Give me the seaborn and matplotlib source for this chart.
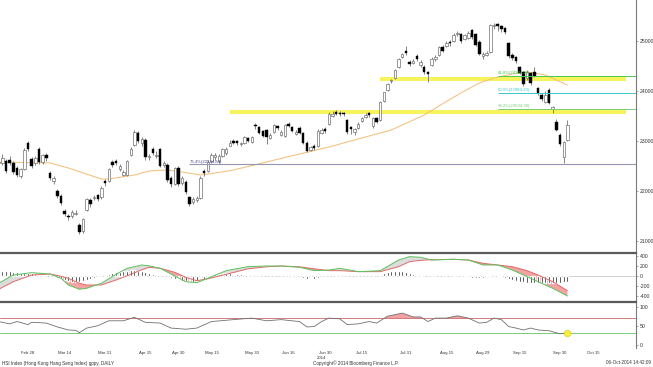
import numpy as np
import pandas as pd
import matplotlib
matplotlib.use("Agg")
import matplotlib.pyplot as plt
import matplotlib.transforms as mtransforms
import seaborn as sns

# HKEX trading calendar (holidays in the charted window)
hk_holidays = ["2014-04-18", "2014-04-21", "2014-05-01", "2014-05-06", "2014-06-02",
               "2014-07-01", "2014-09-09", "2014-10-01", "2014-10-02"]

# daily candles, Feb 17 .. Oct 6 2014
opens = [22420, 22560, 22560, 22600, 22620, 22560, 22460, 22300, 22440, 22950,
         22640, 22560, 22840, 22580, 22720, 22360, 22200, 22000, 21900, 21600,
         21500, 21500, 21550, 21320, 21200, 21620, 21820, 21870, 21920, 21880,
         22200, 22200, 22580, 22600, 22440, 22330, 22320, 22720, 22920, 23160,
         22960, 23020, 22680, 22840, 22700, 22840, 22520, 22520, 22260, 22140,
         22460, 22160, 22180, 21880, 21780, 21820, 21860, 22400, 22400, 22600,
         22680, 22600, 22700, 22760, 22900, 23000, 23000, 22940, 22960, 23060,
         22990, 23330, 23280, 23200, 23220, 23060, 23180, 23300, 23120, 23100,
         23340, 23280, 23140, 23260, 23160, 22960, 22820, 22900, 22900, 23160,
         23240, 23340, 23500, 23580, 23560, 23560, 23420, 23270, 23180, 23260,
         23400, 23480, 23560, 23300, 23460, 23420, 23800, 24020, 24200, 24260,
         24480, 24680, 24800, 24580, 24560, 24700, 24520, 24480, 24380, 24520,
         24640, 24720, 24880, 24900, 24980, 25000, 25140, 25140, 25040, 25060,
         25220, 25140, 24980, 24700, 24720, 24780, 25300, 25340, 25300, 25260,
         24960, 24720, 24680, 24480, 24380, 24260, 24360, 24380, 24060, 23920,
         23780, 24020, 23640, 23380, 23120, 22680, 23020]
highs = [22600, 22640, 22740, 22640, 22700, 22600, 22500, 22470, 22860, 23000,
         22680, 22700, 22880, 22740, 22760, 22400, 22300, 22040, 21940, 21640,
         21540, 21620, 21620, 21360, 21470, 21870, 21860, 21920, 21950, 22100,
         22240, 22470, 22620, 22640, 22540, 22420, 22620, 22880, 23220, 23200,
         23080, 23060, 22740, 22880, 22800, 22860, 22600, 22560, 22300, 22480,
         22500, 22300, 22220, 21900, 21880, 21900, 22300, 22440, 22620, 22760,
         22760, 22740, 22860, 22880, 23020, 23040, 23020, 22980, 23100, 23080,
         23100, 23360, 23300, 23220, 23240, 23160, 23340, 23320, 23220, 23340,
         23380, 23300, 23220, 23300, 23180, 23000, 22900, 22940, 23240, 23260,
         23280, 23580, 23600, 23620, 23600, 23580, 23440, 23300, 23260, 23380,
         23480, 23560, 23580, 23480, 23480, 23800, 23990, 24160, 24240, 24440,
         24660, 24760, 24900, 24620, 24640, 24740, 24620, 24520, 24400, 24680,
         24720, 24900, 24920, 25000, 25020, 25160, 25200, 25160, 25140, 25200,
         25240, 25160, 25020, 24780, 24800, 25340, 25362, 25360, 25320, 25280,
         24980, 24760, 24700, 24500, 24400, 24420, 24380, 24480, 24080, 23960,
         24000, 24060, 23700, 23440, 23160, 23000, 23420]
lows = [22400, 22480, 22520, 22360, 22520, 22340, 22280, 22260, 22420, 22800,
        22460, 22520, 22540, 22540, 22600, 22220, 22150, 21860, 21720, 21500,
        21420, 21460, 21520, 21140, 21160, 21600, 21680, 21820, 21800, 21850,
        22100, 22180, 22480, 22520, 22400, 22300, 22300, 22700, 22900, 22960,
        22900, 22620, 22620, 22720, 22660, 22480, 22480, 22180, 22080, 22120,
        22100, 22120, 21940, 21700, 21740, 21780, 21840, 22300, 22380, 22560,
        22620, 22560, 22680, 22720, 22900, 22940, 22920, 22900, 22940, 22980,
        22970, 23240, 23140, 23080, 22940, 23040, 23160, 23220, 23100, 23080,
        23280, 23180, 23120, 23140, 22940, 22780, 22800, 22820, 22880, 23140,
        23160, 23320, 23480, 23520, 23500, 23500, 23140, 23140, 23120, 23240,
        23380, 23460, 23480, 23260, 23360, 23400, 23780, 24000, 24160, 24240,
        24460, 24660, 24720, 24500, 24540, 24600, 24480, 24340, 24180, 24500,
        24600, 24700, 24780, 24880, 24900, 24980, 25100, 24960, 25020, 25040,
        25040, 24900, 24720, 24640, 24700, 24760, 25240, 25200, 25180, 25140,
        24660, 24620, 24560, 24340, 24100, 24220, 24120, 24280, 23920, 23800,
        23760, 23740, 23560, 23200, 22900, 22560, 23000]
closes = [22535, 22587, 22664, 22394, 22568, 22388, 22317, 22437, 22828, 22837,
          22500, 22657, 22579, 22712, 22660, 22265, 22269, 21901, 21756, 21539,
          21473, 21583, 21568, 21182, 21436, 21846, 21732, 21887, 21834, 22065,
          22151, 22448, 22523, 22565, 22510, 22377, 22596, 22843, 23186, 23003,
          23038, 22671, 22696, 22760, 22730, 22509, 22562, 22223, 22132, 22453,
          22134, 22260, 21976, 21746, 21837, 21863, 22262, 22352, 22583, 22730,
          22713, 22704, 22834, 22836, 22953, 22965, 22963, 22944, 23080, 23010,
          23082, 23291, 23152, 23109, 23071, 23117, 23315, 23257, 23175, 23319,
          23301, 23203, 23181, 23168, 22965, 22805, 22880, 22866, 23197, 23221,
          23191, 23549, 23531, 23546, 23540, 23541, 23176, 23238, 23233, 23346,
          23459, 23523, 23520, 23454, 23387, 23782, 23971, 24141, 24216, 24428,
          24641, 24733, 24757, 24532, 24601, 24648, 24584, 24387, 24331, 24646,
          24689, 24890, 24801, 24955, 24955, 25122, 25159, 24994, 25112, 25166,
          25074, 24918, 24741, 24742, 24752, 25318, 25317, 25298, 25240, 25190,
          24705, 24662, 24595, 24356, 24136, 24376, 24168, 24306, 23955, 23837,
          23921, 23768, 23678, 23229, 22932, 22980, 23315]

# moving average (orange), sampled off the chart
ma_dates = ["2014-02-18", "2014-03-10", "2014-03-17", "2014-03-28", "2014-04-01",
            "2014-04-10", "2014-04-16", "2014-04-25", "2014-05-02", "2014-05-12",
            "2014-05-16", "2014-05-23", "2014-06-06", "2014-06-19", "2014-07-02",
            "2014-07-14", "2014-07-25", "2014-08-07", "2014-08-15", "2014-08-21",
            "2014-08-28", "2014-09-03", "2014-09-11", "2014-09-17", "2014-09-24",
            "2014-09-29", "2014-10-06"]
ma_values = [22580, 22560, 22460, 22240, 22240, 22320, 22400, 22420, 22380, 22320,
             22360, 22420, 22580, 22740, 22880, 23040, 23220, 23520, 23790, 23960,
             24160, 24260, 24340, 24380, 24320, 24220, 24120]

# MACD panel
macd_dates = ["2014-02-18", "2014-02-24", "2014-03-03", "2014-03-10", "2014-03-13",
              "2014-03-17", "2014-03-20", "2014-03-24", "2014-03-28", "2014-04-03",
              "2014-04-08", "2014-04-14", "2014-04-16", "2014-04-23", "2014-04-29",
              "2014-05-05", "2014-05-09", "2014-05-14", "2014-05-21", "2014-05-29",
              "2014-06-06", "2014-06-12", "2014-06-19", "2014-06-25", "2014-07-02",
              "2014-07-07", "2014-07-14", "2014-07-22", "2014-07-29", "2014-08-01",
              "2014-08-06", "2014-08-11", "2014-08-19", "2014-08-25", "2014-08-29",
              "2014-09-04", "2014-09-11", "2014-09-17", "2014-09-22", "2014-09-26",
              "2014-10-06"]
macd_line = [-140, 26, 73, 46, -40, -174, -260, -240, -140, 40, 160, 226, 210, 160,
             6, -108, -128, -40, 113, 193, 206, 206, 180, 113, 126, 160, 93, 113,
             326, 393, 380, 326, 340, 326, 226, 226, 126, -6, -108, -240, -394]
signal_line = [-260, -108, 26, 46, 0, -40, -140, -174, -174, -74, 10, 130, 180, 160,
               80, -20, -88, -50, 40, 150, 190, 206, 190, 150, 113, 113, 93, 93,
               193, 293, 320, 330, 340, 326, 260, 226, 193, 113, 26, -108, -288]
hist_values = [110, 110, 110, 105, 100, 95, 80, 75, 70, 65, 60,
               40, 30, 20, 10, 5, -20,
               -40, -60, -80, -100, -110, -110, -105, -100,
               -80, -60, -40, -20, 5, 20,
               40, 60, 80, 90, 100, 110, 120, 120, 110,
               100, 80, 60, 50, 40, 30, 10, -20, -40,
               -60, -80, -90, -100, -110, -110, -100, -80, -50, -20,
               20, 40, 50, 60, 60, 60, 50,
               40, 40, 30, 30, 20, 20, 20, 10, 10, 5,
               5, 10, 5, -5, -10, -10, -20, -20,
               -40, -60, -60, -50, -40, -30, -20,
               10, 30, 30, 30, 20, 10,
               5, -10, 5, 5, -5, 5, -5, 5,
               30, 60, 80, 100, 110, 110, 100, 80, 60,
               40, 30, 20, 10, 5,
               -5, 5, 5, 10, 10, 5, -5, 5, -5, -10,
               -20, -30, -40, -40, -40,
               -20, -5, 5, -10, -20,
               -40, -60, -80, -100, -110, -120, -130,
               -140, -140, -140, -140, -140, -140, -130, -130, -130, -120, -110]

# RSI panel
rsi_dates = ["2014-02-18", "2014-02-21", "2014-02-25", "2014-02-28", "2014-03-03",
             "2014-03-07", "2014-03-12", "2014-03-17", "2014-03-19", "2014-03-20",
             "2014-03-24", "2014-03-27", "2014-04-01", "2014-04-07", "2014-04-10",
             "2014-04-15", "2014-04-23", "2014-04-28", "2014-05-05", "2014-05-09",
             "2014-05-15", "2014-05-23", "2014-05-30", "2014-06-06", "2014-06-12",
             "2014-06-19", "2014-06-23", "2014-06-25", "2014-06-27", "2014-07-02",
             "2014-07-07", "2014-07-09", "2014-07-14", "2014-07-17", "2014-07-21",
             "2014-07-24", "2014-07-30", "2014-08-04", "2014-08-06", "2014-08-08",
             "2014-08-12", "2014-08-15", "2014-08-20", "2014-08-25", "2014-08-28",
             "2014-09-01", "2014-09-03", "2014-09-05", "2014-09-10", "2014-09-12",
             "2014-09-16", "2014-09-18", "2014-09-22", "2014-09-25", "2014-09-30",
             "2014-10-06"]
rsi_values = [61, 55, 61, 53, 59, 57, 47, 39, 38, 32, 44, 50, 63, 63, 72, 59, 57, 44,
              41, 44, 61, 66, 70, 63, 66, 61, 47, 48, 61, 70, 68, 53, 55, 61, 57, 75,
              83, 73, 73, 61, 70, 70, 76, 70, 57, 59, 70, 66, 48, 44, 39, 44, 39, 37,
              29, 32]

tick_dates = ["2014-02-28", "2014-03-14", "2014-03-31", "2014-04-15", "2014-04-30",
              "2014-05-15", "2014-05-30", "2014-06-16", "2014-06-30", "2014-07-15",
              "2014-07-31", "2014-08-15", "2014-08-29", "2014-09-15", "2014-09-30",
              "2014-10-15"]
tick_labels = ["Feb 28", "Mar 14", "Mar 31", "Apr 15", "Apr 30", "May 15", "May 30",
               "Jun 16", "Jun 30", "Jul 15", "Jul 31", "Aug 15", "Aug 29", "Sep 15",
               "Sep 30", "Oct 15"]

fib_levels = [24300, 23955, 23640]
fib_labels = ["61.8%(24334.28)", "50.0%(23984.29)", "38.2%(23634.30)"]
fib_colors = ["#4cc84c", "#3cc8c8", "#74cf74"]
fib_start = "2014-09-04"
low_level = 22535
low_label = "76.4%(22534.84)"
low_start = "2014-05-07"
bands = [("2014-05-22", 23550, 23630), ("2014-07-22", 24205, 24285)]
band_end = "2014-10-28"

sns.set_style("white")
plt.rcParams["font.family"] = ["Liberation Sans", "DejaVu Sans"]

days = pd.bdate_range("2014-02-17", "2014-11-14", freq="C", holidays=hk_holidays)


def pos(d):
    return days.get_loc(pd.Timestamp(d))


fig = plt.figure(figsize=(6.53, 3.67), dpi=100)
W = 636 / 653
ax = fig.add_axes([0, 1 - 252 / 367, W, 252 / 367])
ax2 = fig.add_axes([0, 1 - 301 / 367, W, 48 / 367])
ax3 = fig.add_axes([0, 1 - 348 / 367, W, 46 / 367])
xmin, xmax = 1.37, 174.7

# --- price panel
x = np.arange(len(closes))
o, h, l, c = (np.array(v, dtype=float) for v in (opens, highs, lows, closes))
up = c >= o
body = np.maximum(np.abs(c - o), 14)
bottom = np.minimum(o, c)

for start, lo, hi in bands:
    ax.fill_between([pos(start), pos(band_end)], lo, hi, color="#f7f35a", lw=0, zorder=1)

sns.lineplot(x=[pos(d) for d in ma_dates], y=ma_values, ax=ax, color="#f3c07e",
             lw=0.75, zorder=2, legend=False)

ax.vlines(x, l, h, color="#707070", lw=0.6, zorder=3)
ax.bar(x[up], body[up], bottom=bottom[up], width=0.66, color="white",
       edgecolor="#707070", linewidth=0.5, zorder=4)
ax.bar(x[~up], body[~up], bottom=bottom[~up], width=0.66, color="black",
       edgecolor="black", linewidth=0.3, zorder=4)

for lev, lab, col in zip(fib_levels, fib_labels, fib_colors):
    ax.hlines(lev, pos(fib_start), xmax, color=col, lw=0.7, zorder=5)
    ax.text(pos(fib_start), lev + 15, lab, fontsize=3.1, color=col, va="bottom", zorder=6)
ax.hlines(low_level, pos(low_start), xmax, color="#9494b4", lw=0.8, zorder=5)
ax.text(pos(low_start), low_level + 15, low_label, fontsize=3.1, color="#4a4a8a",
        va="bottom", zorder=6)

ax.set_ylim(20780, 25820)
ax.set_yticks([21000, 22000, 23000, 24000, 25000])
ax.set_yticklabels(["21000", "22000", "23000", "24000", "25000"])

# --- MACD panel
mx = np.array([pos(d) for d in macd_dates])
g = np.array(macd_line, dtype=float)
r = np.array(signal_line, dtype=float)
ax2.axhline(0, color="#b0b0b0", lw=0.4, zorder=1)
ax2.fill_between(mx, g, r, where=g >= r, interpolate=True, color="#dcdcdc", lw=0, zorder=1)
ax2.fill_between(mx, g, r, where=g < r, interpolate=True, color="#f2a2a2", lw=0, zorder=1)
sns.lineplot(x=mx, y=r, ax=ax2, color="#e06a6a", lw=0.7, zorder=3, legend=False)
sns.lineplot(x=mx, y=g, ax=ax2, color="#5cc45c", lw=0.7, zorder=3, legend=False)
ax2.bar(np.arange(len(hist_values)), hist_values, width=0.5, color="black", zorder=2)
ax2.set_ylim(-494, 466)
ax2.set_yticks([-400, -200, 0, 200, 400])
ax2.set_yticklabels(["-400", "-200", "0", "200", "400"])

# --- RSI panel
rx = np.array([pos(d) for d in rsi_dates])
rv = np.array(rsi_values, dtype=float)
ax3.fill_between(rx, rv, 70, where=rv > 70, interpolate=True, color="#f2a2a2", lw=0, zorder=1)
ax3.axhline(70, color="#d47a7a", lw=0.7, zorder=2)
ax3.axhline(30, color="#7acb7a", lw=0.7, zorder=2)
sns.lineplot(x=rx, y=rv, ax=ax3, color="#707070", lw=0.6, zorder=3, legend=False)
ax3.scatter(rx[-1], rv[-1], s=24, color="#f3ef3c", edgecolor="#d2ca30", lw=0.4, zorder=5)
ax3.set_ylim(-8, 112)
ax3.set_yticks([0, 50, 100])
ax3.set_yticklabels(["0", "50", "100"])

tp = np.array([pos(d) for d in tick_dates])
ax3.set_xticks(tp)
ax3.set_xticklabels(tick_labels)
ax3.set_xticks(np.r_[tp[0] - 5, (tp[:-1] + tp[1:]) / 2], minor=True)
ax3.tick_params(axis="x", which="major", length=0, pad=2.2, labelsize=3.1, labelcolor="#333333")
ax3.tick_params(axis="x", which="minor", length=2, width=0.4, color="#666666")
blend = mtransforms.blended_transform_factory(ax3.transData, fig.transFigure)
ax3.text(pos("2014-06-27"), 1 - 358 / 367, "2014", transform=blend, fontsize=3.1,
         color="#333333", va="center", ha="center")

for a in (ax, ax2, ax3):
    a.set_xlim(xmin, xmax)
    a.set_xlabel("")
    a.set_ylabel("")
    a.yaxis.tick_right()
    a.tick_params(axis="y", which="major", length=1.6, width=0.4, color="#666666",
                  labelsize=3.7, labelcolor="#333333", pad=1.2)
    a.set_facecolor("white")
    for s in ("left", "bottom", "top"):
        a.spines[s].set_visible(False)
    a.spines["right"].set_color("#7a7a7a")
    a.spines["right"].set_linewidth(0.8)
ax.set_xticks([])
ax2.set_xticks([])
for a in (ax2, ax3):
    a.spines["top"].set_visible(True)
    a.spines["top"].set_color("#5a5a5a")
    a.spines["top"].set_linewidth(1.6)

ty = 1 - 363 / 367
fig.text(0.003, ty, "HSI Index (Hong Kong Hang Seng Index) gppy, DAILY", fontsize=3.3,
         color="#333333", va="center")
fig.text(313 / 653, ty, "Copyright\u00a9 2014 Bloomberg Finance L.P.", fontsize=3.3,
         color="#333333", va="center")
fig.text(651 / 653, ty, "06-Oct-2014 14:42:09", fontsize=3.3, color="#333333",
         va="center", ha="right")

fig.savefig("out.png", dpi=100, facecolor="white")
